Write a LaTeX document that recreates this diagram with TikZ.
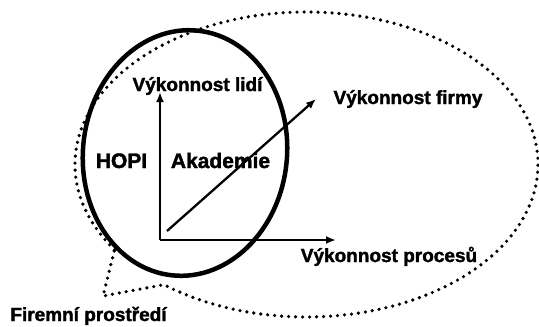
\documentclass[tikz,border=0pt]{standalone}
\usepackage{fontspec}
\setmainfont{Liberation Sans}
\newfontfamily\heavyfont[FakeBold=1.8]{Liberation Sans Bold}
\usetikzlibrary{arrows.meta}
\tikzset{
  lbl/.style={font=\heavyfont\fontsize{19}{22}\selectfont, inner sep=0pt, anchor=base},
  biglbl/.style={font=\heavyfont\fontsize{21}{24}\selectfont, inner sep=0pt, anchor=base},
  axis/.style={line width=2.3pt, -{Latex[length=10pt,width=8pt]}},
  dotline/.style={line width=3.6pt, line cap=round, dash pattern=on 0pt off 7pt},
}
\begin{document}
\begin{tikzpicture}[x=1pt,y=-1pt]
\useasboundingbox (0,0) rectangle (539,327);
% outer dotted callout
\coordinate (bc) at (306.5,164.5);
\coordinate (ptr) at (103,296);
\draw[dotline] (bc) ++(146:231.5 and 152.5) arc[start angle=146, end angle=488, x radius=231.5, y radius=152.5] -- (ptr) -- cycle;
% solid ellipse
\coordinate (ec) at (185,153);
\draw[line width=4.5pt, rotate around={-6:(ec)}] (ec) ellipse[x radius=102, y radius=123];
% axes
\coordinate (o) at (160,240);
\coordinate (ytip) at (160,92);
\coordinate (xtip) at (336,240);
\coordinate (ds) at (167,231);
\coordinate (dtip) at (316,99);
\draw[axis] (o) -- (ytip);
\draw[axis] (o) -- (xtip);
\draw[axis] (ds) -- (dtip);
% labels
\node[lbl] (lidi) at (197.5,91) {Výkonnost lidí};
\node[biglbl] (hopi) at (121.5,168) {HOPI};
\node[biglbl] (akad) at (220.5,168) {Akademie};
\node[lbl] (firmy) at (408,104) {Výkonnost firmy};
\node[lbl] (proc) at (389,262) {Výkonnost procesů};
\node[lbl] (prost) at (88.5,321) {Firemní prostředí};
\end{tikzpicture}
\end{document}
